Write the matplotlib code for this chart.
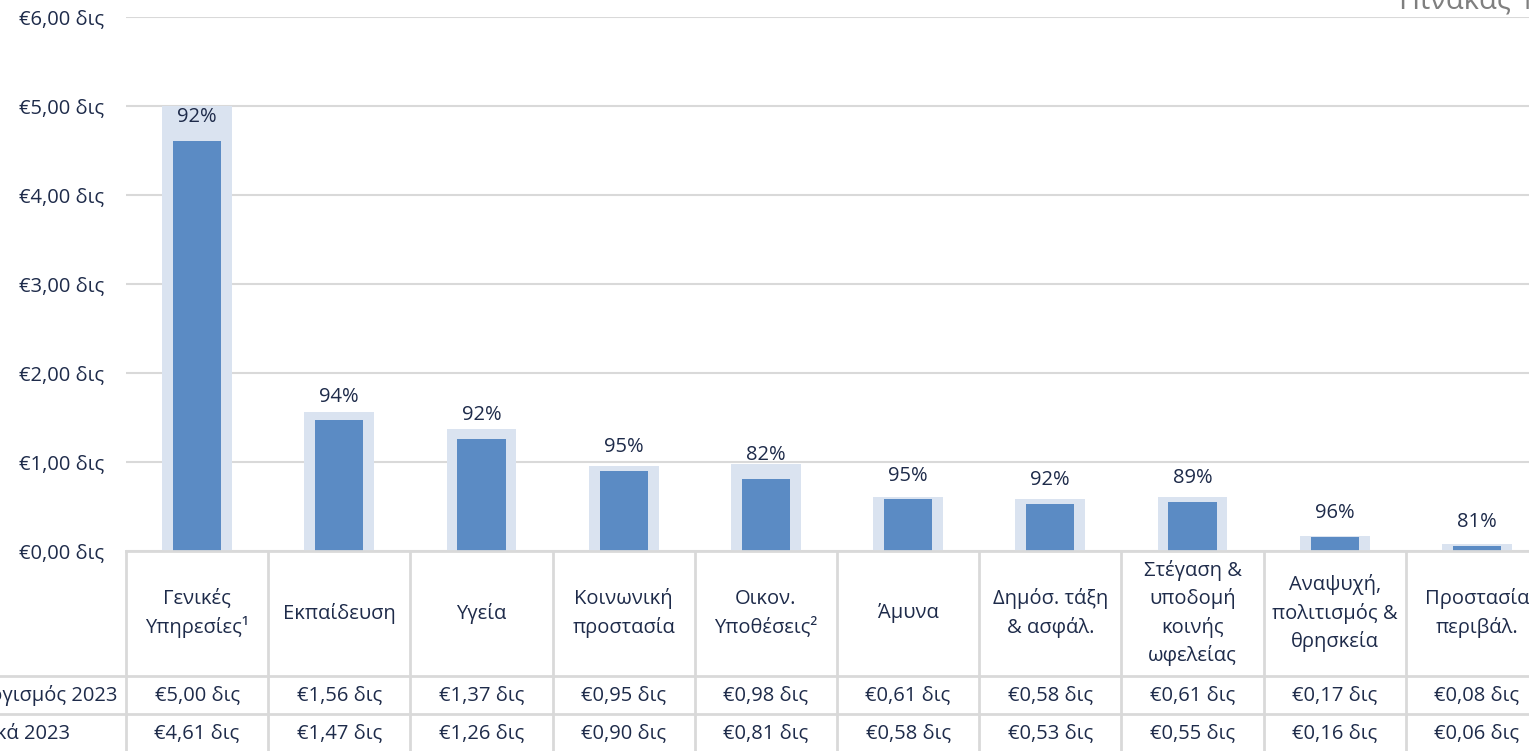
import matplotlib
matplotlib.use("Agg")
import matplotlib.pyplot as plt
from matplotlib.transforms import blended_transform_factory
from matplotlib.lines import Line2D

plt.rcParams['font.family'] = ['Open Sans', 'Noto Sans', 'DejaVu Sans']

categories = ["Γενικές\nΥπηρεσίες¹", "Εκπαίδευση", "Υγεία", "Κοινωνική\nπροστασία",
              "Οικον.\nΥποθέσεις²", "Άμυνα", "Δημόσ. τάξη\n& ασφάλ.",
              "Στέγαση &\nυποδομή\nκοινής\nωφελείας", "Αναψυχή,\nπολιτισμός &\nθρησκεία",
              "Προστασία\nπεριβάλ."]
budget = [5.00, 1.56, 1.37, 0.95, 0.98, 0.61, 0.58, 0.61, 0.17, 0.08]
actual = [4.61, 1.47, 1.26, 0.90, 0.81, 0.58, 0.53, 0.55, 0.16, 0.06]
percent = ["92%", "94%", "92%", "95%", "82%", "95%", "92%", "89%", "96%", "81%"]
row_labels = ["Προϋπολογισμός 2023", "Πραγματικά 2023"]
yticks = [0, 1, 2, 3, 4, 5, 6]

W, H = 1529, 751
fig = plt.figure(figsize=(W / 100, H / 100), dpi=100)
TXT = '#1e2b4a'
GRID = '#d9d9d9'
FS = 14.5

ax_left, ax_right, ax_top, ax_bot = 126, 1548, 17, 551
ax = fig.add_axes([ax_left / W, 1 - ax_bot / H, (ax_right - ax_left) / W, (ax_bot - ax_top) / H])
x = list(range(len(categories)))
ax.bar(x, budget, width=0.49, color='#dae3f0', zorder=2)
ax.bar(x, actual, width=0.34, color='#5b8bc4', zorder=3)
for xi, a, p in zip(x, actual, percent):
    ax.annotate(p, (xi, a), xytext=(0, 17), textcoords='offset points', ha='center',
                va='center', fontsize=FS, color=TXT, zorder=4)
ax.set_xlim(-0.5, len(categories) - 0.5)
ax.set_ylim(0, 6)
ax.set_yticks(yticks)
ax.set_yticklabels([f"€{v:.2f} δις".replace('.', ',') for v in yticks], fontsize=FS, color=TXT)
ax.yaxis.grid(True, color=GRID, linewidth=1.5, zorder=0)
ax.set_xticks([])
ax.tick_params(axis='y', length=0, pad=16)
for s in ax.spines.values():
    s.set_visible(False)

def fy(py):
    return 1 - py / H

def fx(px):
    return px / W

tr = blended_transform_factory(ax.transData, fig.transFigure)
fig.add_artist(Line2D([fx(ax_left), fx(ax_right)], [fy(551), fy(551)], color=GRID, lw=2))
for ry in [676, 714]:
    fig.add_artist(Line2D([0, 1], [fy(ry), fy(ry)], color=GRID, lw=2))
for i in range(len(categories) + 1):
    fig.add_artist(Line2D([i - 0.5, i - 0.5], [fy(551), fy(752)], color=GRID, lw=2, transform=tr))

for xi, c, b, a in zip(x, categories, budget, actual):
    fig.text(xi, fy(613), c, transform=tr, ha='center', va='center', fontsize=FS,
             color=TXT, linespacing=1.45)
    fig.text(xi, fy(695), f"€{b:.2f} δις".replace('.', ','), transform=tr, ha='center',
             va='center', fontsize=FS, color=TXT)
    fig.text(xi, fy(733), f"€{a:.2f} δις".replace('.', ','), transform=tr, ha='center',
             va='center', fontsize=FS, color=TXT)

fig.text(fx(118), fy(695), row_labels[0], ha='right', va='center', fontsize=FS, color=TXT)
fig.text(fx(70), fy(733), row_labels[1], ha='right', va='center', fontsize=FS, color=TXT)

fig.text(fx(1535), fy(8), "Πίνακας 1", ha='right', va='baseline', fontsize=21, color='#7f7f7f')

fig.savefig("out.png", dpi=100)
